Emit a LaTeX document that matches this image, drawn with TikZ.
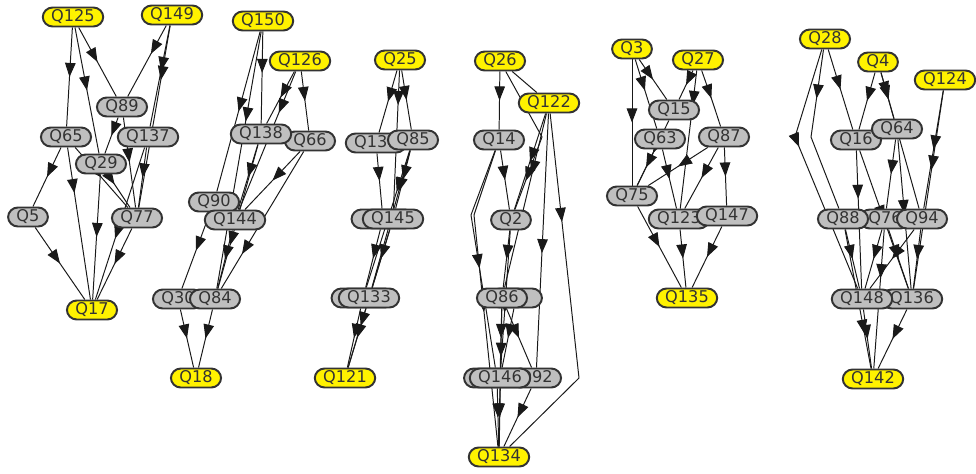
\documentclass[tikz,border=0pt]{standalone}
\usepackage{fontspec}
\setsansfont{DejaVu Sans}
\usetikzlibrary{arrows.meta,decorations.markings,backgrounds}

\begin{document}
\begin{tikzpicture}[x=0.025cm, y=-0.025cm,
    qnode/.style={rounded corners=7pt, draw=black!80, fill=black!25, line width=1.4pt, minimum height=4.75mm, inner xsep=6pt, inner ysep=1pt, font=\sffamily\fontsize{11.5}{12}\selectfont, text=black!80},
    rootnode/.style={qnode, fill=yellow},
    dep/.style={draw=black!90, line width=0.7pt, postaction={decorate}, decoration={markings, mark=at position #1 with {\arrow{Triangle[length=10pt,width=7.5pt]}}}},
    dep/.default=0.5
]
\useasboundingbox (0,0) rectangle (976,474);

% first cluster
\node[rootnode](Q125) at (73,17){Q125};
\node[rootnode](Q149) at (172,15){Q149};
\node[qnode](Q89) at (122,107){Q89};
\node[qnode](Q65) at (66,137){Q65};
\node[qnode](Q137) at (148,137){Q137};
\node[qnode](Q29) at (101,164){Q29};
\node[qnode](Q5) at (28,217){Q5};
\node[qnode](Q77) at (137,218){Q77};
\node[rootnode](Q17) at (92,310){Q17};

% second cluster
\node[rootnode](Q150) at (263,21){Q150};
\node[rootnode](Q126) at (300,61){Q126};
\node[qnode](Q66) at (310,141){Q66};
\node[qnode](Q138) at (261,134){Q138};
\node[qnode](Q90) at (214,202){Q90};
\node[qnode](Q144) at (235,220){Q144};
\node[qnode](Q30) at (178,299){Q30};
\node[qnode](Q84) at (215,299){Q84};
\node[rootnode](Q18) at (196,378){Q18};

% third cluster
\node[rootnode](Q25) at (400,60){Q25};
\node[qnode](Q131) at (376,143){Q131};
\node[qnode](Q85) at (413,140){Q85};
\node[qnode, minimum width=1.575cm](Q145b) at (383,219){};
\node[qnode](Q145) at (393,219){Q145};
\node[qnode, minimum width=1.575cm](Q133b) at (363,298){};
\node[qnode](Q133) at (369,298){Q133};
\node[rootnode](Q121) at (345,378){Q121};

% fourth cluster
\node[rootnode](Q26) at (500,61){Q26};
\node[rootnode](Q122) at (549,103){Q122};
\node[qnode](Q14) at (499,140){Q14};
\node[qnode](Q2) at (511,220){Q2};
\node[qnode, minimum width=1.3cm](Q86b) at (516,298){};
\node[qnode](Q86) at (502,298){Q86};
\node[qnode](Q92) at (536,378){Q92};
\node[qnode, minimum width=1.65cm](Q146b) at (497,378){};
\node[qnode](Q146) at (500,378){Q146};
\node[rootnode](Q134) at (499,457){Q134};

% fifth cluster
\node[rootnode](Q3) at (632,49){Q3};
\node[rootnode](Q27) at (698,60){Q27};
\node[qnode](Q15) at (674,110){Q15};
\node[qnode](Q63) at (660,139){Q63};
\node[qnode](Q87) at (724,137){Q87};
\node[qnode](Q75) at (632,196){Q75};
\node[qnode](Q123) at (679,219){Q123};
\node[qnode](Q147) at (727,216){Q147};
\node[rootnode](Q135) at (687,298){Q135};

% sixth cluster
\node[rootnode](Q28) at (825,39){Q28};
\node[rootnode](Q4) at (878,62){Q4};
\node[rootnode](Q124) at (945,80){Q124};
\node[qnode](Q16) at (856,140){Q16};
\node[qnode](Q64) at (897,129){Q64};
\node[qnode](Q76) at (885,219){Q76};
\node[qnode](Q88) at (843,219){Q88};
\node[qnode](Q94) at (922,219){Q94};
\node[qnode](Q136) at (912,299){Q136};
\node[qnode](Q148) at (862,299){Q148};
\node[rootnode](Q142) at (873,379){Q142};

% bend points
\coordinate (b26) at (542,137);
\coordinate (b14a) at (471,215);
\coordinate (b14b) at (474,215);
\coordinate (b122) at (579,378);
\coordinate (b28a) at (795,137);
\coordinate (b28b) at (811,137);

\begin{scope}[on background layer]
% first cluster
\draw[dep] (Q125) -- (Q65);
\draw[dep] (Q125) -- (Q29);
\draw[dep] (Q125) -- (Q89);
\draw[dep=0.4] (Q149) -- (Q89);
\draw[dep=0.45] (Q149) -- (Q137);
\draw[dep=0.3] (Q149) -- (Q77);
\draw[dep] (Q89) -- (Q29);
\draw[dep] (Q89) -- (Q77);
\draw[dep] (Q65) -- (Q5);
\draw[dep=0.3] (Q65) -- (Q17);
\draw[dep] (Q65) -- (Q77);
\draw[dep] (Q137) -- (Q77);
\draw[dep=0.6] (Q137) -- (Q17);
\draw[dep=0.3] (Q29) -- (Q77);
\draw[dep] (Q29) -- (Q17);
\draw[dep] (Q5) -- (Q17);
\draw[dep] (Q77) -- (Q17);
% second cluster
\draw[dep=0.45] (Q150) -- (Q138);
\draw[dep=0.5] (Q150) -- (Q90);
\draw[dep=0.35] (Q150) -- (Q84);
\draw[dep] (Q126) -- (Q138);
\draw[dep=0.3] (Q126) -- (Q144);
\draw[dep] (Q126) -- (Q66);
\draw[dep] (Q138) -- (Q144);
\draw[dep=0.7] (Q138) -- (Q84);
\draw[dep] (Q66) -- (Q144);
\draw[dep=0.75] (Q66) -- (Q84);
\draw[dep] (Q90) -- (Q30);
\draw[dep] (Q144) -- (Q84);
\draw[dep] (Q30) -- (Q18);
\draw[dep] (Q84) -- (Q18);
% third cluster
\draw[dep] (Q25) -- (Q131);
\draw[dep] (Q25) -- (Q85);
\draw[dep=0.25] (Q25) -- (Q145);
\draw[dep] (Q131) -- (Q145b);
\draw[dep] (Q85) -- (Q145);
\draw[dep=0.3] (Q85) -- (Q133);
\draw[dep=0.3] (Q85) -- (Q133b);
\draw[dep] (Q145) -- (Q133);
\draw[dep] (Q145b) -- (Q133b);
\draw[dep=0.7] (Q145) -- (Q121);
\draw[dep] (Q133) -- (Q121);
\draw[dep] (Q133b) -- (Q121);
% fourth cluster
\draw[dep] (Q26) -- (Q14);
\draw[draw=black!90, line width=0.7pt] (Q26) -- (Q122);
\draw[dep=0.8] (Q26) -- (b26) -- (Q2);
\draw[dep] (Q122) -- (Q2);
\draw[dep=0.35] (Q122) -- (Q86);
\draw[dep=0.55] (Q122) -- (Q92);
\draw[dep=0.3] (Q122) -- (b122) -- (Q134);
\draw[dep] (Q14) -- (Q2);
\draw[dep=0.55] (Q14) -- (b14a) -- (Q146b);
\draw[dep=0.55] (Q14) -- (b14b) -- (Q134);
\draw[dep] (Q2) -- (Q86);
\draw[dep=0.6] (Q2) -- (Q146);
\draw[dep] (Q86) -- (Q146);
\draw[dep=0.35] (Q86) -- (Q134);
\draw[dep] (Q86) -- (Q92);
\draw[dep] (Q86b) -- (Q146);
\draw[dep] (Q146) -- (Q134);
\draw[dep] (Q146b) -- (Q134);
\draw[dep] (Q92) -- (Q134);
% fifth cluster
\draw[dep] (Q3) -- (Q75);
\draw[dep=0.45] (Q3) -- (Q63);
\draw[dep] (Q3) -- (Q15);
\draw[dep] (Q27) -- (Q15);
\draw[dep=0.25] (Q27) -- (Q123);
\draw[dep] (Q27) .. controls (712,100) .. (Q87);
\draw[dep] (Q15) -- (Q75);
\draw[dep] (Q63) -- (Q75);
\draw[dep] (Q63) -- (Q123);
\draw[dep] (Q87) -- (Q75);
\draw[dep] (Q87) -- (Q123);
\draw[dep] (Q87) -- (Q147);
\draw[dep] (Q75) -- (Q135);
\draw[dep] (Q123) -- (Q135);
\draw[dep] (Q147) -- (Q135);
% sixth cluster
\draw[dep=0.4] (Q28) -- (b28a) -- (Q148);
\draw[dep=0.3] (Q28) -- (b28b) -- (Q88);
\draw[dep] (Q28) -- (Q16);
\draw[dep] (Q16) -- (Q136);
\draw[dep] (Q4) -- (Q16);
\draw[dep] (Q4) -- (Q64);
\draw[dep=0.2] (Q4) -- (Q94);
\draw[dep] (Q124) -- (Q94);
\draw[dep=0.4] (Q124) -- (Q136);
\draw[dep] (Q64) -- (Q76);
\draw[dep] (Q64) -- (Q136);
\draw[dep=0.35] (Q16) -- (Q148);
\draw[dep] (Q88) -- (Q148);
\draw[dep=0.75] (Q88) -- (Q142);
\draw[dep] (Q76) -- (Q148);
\draw[dep=0.35] (Q76) -- (Q142);
\draw[dep] (Q76) -- (Q136);
\draw[dep] (Q94) -- (Q136);
\draw[dep] (Q94) -- (Q148);
\draw[dep] (Q148) -- (Q142);
\draw[dep] (Q136) -- (Q142);
\end{scope}
\end{tikzpicture}
\end{document}
